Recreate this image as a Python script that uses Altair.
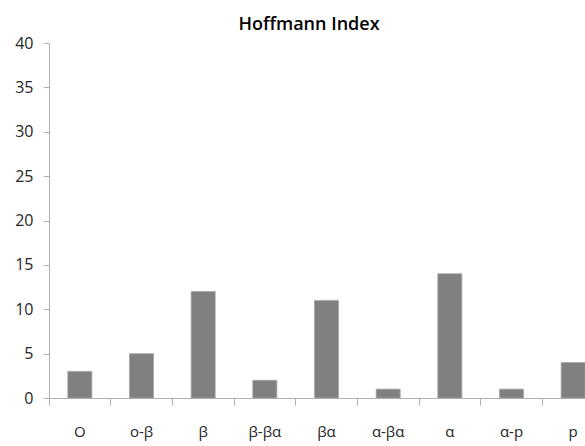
import altair as alt
import pandas as pd

categories = ["O", "o-β", "β", "β-βα", "βα", "α-βα", "α", "α-p", "p"]
values = [3, 5, 12, 2, 11, 1, 14, 1, 4]

df = pd.DataFrame({"cat": categories, "val": values})

axis_color = "#b0b0b0"
font = "Open Sans"

chart = alt.Chart(df).mark_bar(
    color="#808080", stroke="#a6a6a6", strokeWidth=0.8,
    width=alt.RelativeBandSize(0.39)
).encode(
    x=alt.X("cat:N", sort=categories, title=None,
            scale=alt.Scale(range=[0, 555], paddingInner=0, paddingOuter=0),
            axis=alt.Axis(labelAngle=0, bandPosition=0, tickSize=7, labelPadding=19,
                          labelFont=font, labelFontSize=15, labelColor="#262626",
                          domainColor=axis_color, tickColor=axis_color,
                          labelBound=False, labelOverlap=False)),
    y=alt.Y("val:Q", title=None,
            scale=alt.Scale(domain=[0, 40], nice=False),
            axis=alt.Axis(values=list(range(0, 41, 5)), grid=False, tickSize=6,
                          labelPadding=10, labelFont=font, labelFontSize=16,
                          labelColor="#262626",
                          domainColor=axis_color, tickColor=axis_color)),
).properties(
    width=536, height=355,
    title=alt.TitleParams("Hoffmann Index", font=font, fontSize=18, fontWeight=600,
                          color="#000000", anchor="middle", dx=-8, offset=10,
                          dy=9),
    autosize=alt.AutoSizeParams(type="none"),
    padding={"left": 49, "top": 43, "right": 0, "bottom": 48},
).configure_view(stroke=None)

chart.save("out.html", embed_options={"renderer": "svg", "actions": False})
